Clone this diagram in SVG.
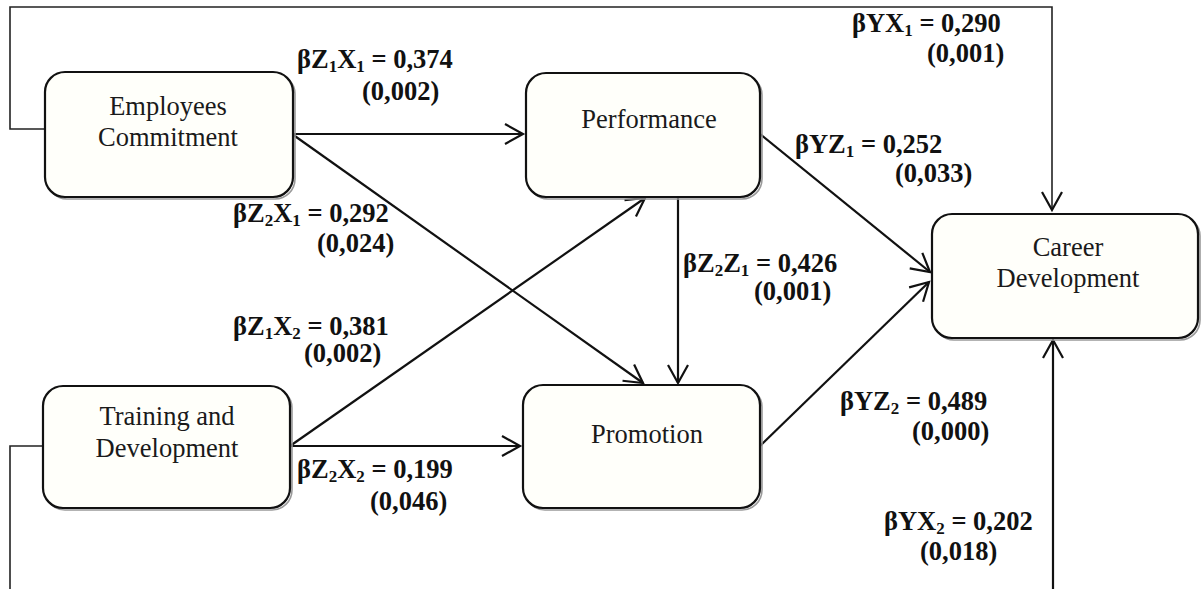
<svg xmlns="http://www.w3.org/2000/svg" width="1202" height="589" viewBox="0 0 1202 589">
<defs>
<marker id="arr" markerUnits="userSpaceOnUse" markerWidth="22" markerHeight="22" refX="18" refY="10" orient="auto" overflow="visible">
<path d="M0,0 L18,10 L0,20" fill="none" stroke="#111" stroke-width="2.2" stroke-linejoin="miter"/>
</marker>
<style>
.box{fill:#fffffa;stroke:#111;stroke-width:2.2}
.shadow{fill:none;stroke:#9a9a9a;stroke-width:1.6}
.nt{font-family:'Liberation Serif','Times New Roman',serif;font-size:26.5px;fill:#1a1a1a;text-anchor:middle}
.lb{font-family:'Liberation Serif','Times New Roman',serif;font-size:26.5px;font-weight:bold;fill:#111}
.sub{font-size:17px}
.con{fill:none;stroke:#111;stroke-width:2.2}
.loop{fill:none;stroke:#222;stroke-width:1.6}
</style>
</defs>
<rect width="1202" height="589" fill="#ffffff"/>

<g id="connectors">
<polyline class="loop" points="45,129 10,129 10,7 1052,7 1052,210" marker-end="url(#arr)"/>
<polyline class="loop" points="43,446 10,446 10,589"/>
<line class="con" x1="1053" y1="589" x2="1053" y2="340" marker-end="url(#arr)"/>
<line class="con" x1="292" y1="134" x2="523" y2="134" marker-end="url(#arr)"/>
<line class="con" x1="292" y1="134" x2="643" y2="383" marker-end="url(#arr)"/>
<line class="con" x1="290" y1="446" x2="645" y2="198" marker-end="url(#arr)"/>
<line class="con" x1="290" y1="446" x2="520" y2="446" marker-end="url(#arr)"/>
<line class="con" x1="678" y1="197" x2="678" y2="383" marker-end="url(#arr)"/>
<line class="con" x1="760" y1="134" x2="930" y2="272" marker-end="url(#arr)"/>
<line class="con" x1="760" y1="446" x2="929" y2="282" marker-end="url(#arr)"/>
</g>

<g id="node-employees-commitment">
<rect class="shadow" x="47" y="74" width="248" height="125" rx="20"/>
<rect class="box" x="45" y="72" width="248" height="125" rx="20"/>
<text class="nt" x="168" y="115">Employees</text>
<text class="nt" x="168" y="146">Commitment</text>
</g>

<g id="node-performance">
<rect class="shadow" x="528" y="75" width="234" height="124" rx="20"/>
<rect class="box" x="526" y="73" width="234" height="124" rx="20"/>
<text class="nt" x="649" y="128">Performance</text>
</g>

<g id="node-training-development">
<rect class="shadow" x="45" y="388" width="247" height="122" rx="20"/>
<rect class="box" x="43" y="386" width="247" height="122" rx="20"/>
<text class="nt" x="167" y="425">Training and</text>
<text class="nt" x="167" y="457">Development</text>
</g>

<g id="node-promotion">
<rect class="shadow" x="525" y="387" width="237" height="123" rx="20"/>
<rect class="box" x="523" y="385" width="237" height="123" rx="20"/>
<text class="nt" x="647" y="443">Promotion</text>
</g>

<g id="node-career-development">
<rect class="shadow" x="934" y="216" width="266" height="124" rx="20"/>
<rect class="box" x="932" y="214" width="266" height="124" rx="20"/>
<text class="nt" x="1068" y="256">Career</text>
<text class="nt" x="1068" y="287">Development</text>
</g>

<g id="labels">
<text class="lb" x="297" y="68">βZ<tspan class="sub" dy="4">1</tspan><tspan dy="-4">X</tspan><tspan class="sub" dy="4">1</tspan><tspan dy="-4"> = 0,374</tspan></text>
<text class="lb" x="362" y="100">(0,002)</text>

<text class="lb" x="852" y="32">βYX<tspan class="sub" dy="4">1</tspan><tspan dy="-4"> = 0,290</tspan></text>
<text class="lb" x="927" y="62">(0,001)</text>

<text class="lb" x="795" y="153">βYZ<tspan class="sub" dy="4">1</tspan><tspan dy="-4"> = 0,252</tspan></text>
<text class="lb" x="895" y="182">(0,033)</text>

<text class="lb" x="233" y="222">βZ<tspan class="sub" dy="4">2</tspan><tspan dy="-4">X</tspan><tspan class="sub" dy="4">1</tspan><tspan dy="-4"> = 0,292</tspan></text>
<text class="lb" x="317" y="252">(0,024)</text>

<text class="lb" x="233" y="335">βZ<tspan class="sub" dy="4">1</tspan><tspan dy="-4">X</tspan><tspan class="sub" dy="4">2</tspan><tspan dy="-4"> = 0,381</tspan></text>
<text class="lb" x="304" y="362">(0,002)</text>

<text class="lb" x="683" y="272">βZ<tspan class="sub" dy="4">2</tspan><tspan dy="-4">Z</tspan><tspan class="sub" dy="4">1</tspan><tspan dy="-4"> = 0,426</tspan></text>
<text class="lb" x="754" y="300">(0,001)</text>

<text class="lb" x="840" y="410">βYZ<tspan class="sub" dy="4">2</tspan><tspan dy="-4"> = 0,489</tspan></text>
<text class="lb" x="912" y="440">(0,000)</text>

<text class="lb" x="297" y="478">βZ<tspan class="sub" dy="4">2</tspan><tspan dy="-4">X</tspan><tspan class="sub" dy="4">2</tspan><tspan dy="-4"> = 0,199</tspan></text>
<text class="lb" x="370" y="510">(0,046)</text>

<text class="lb" x="884" y="530">βYX<tspan class="sub" dy="4">2</tspan><tspan dy="-4"> = 0,202</tspan></text>
<text class="lb" x="920" y="560">(0,018)</text>
</g>
</svg>
